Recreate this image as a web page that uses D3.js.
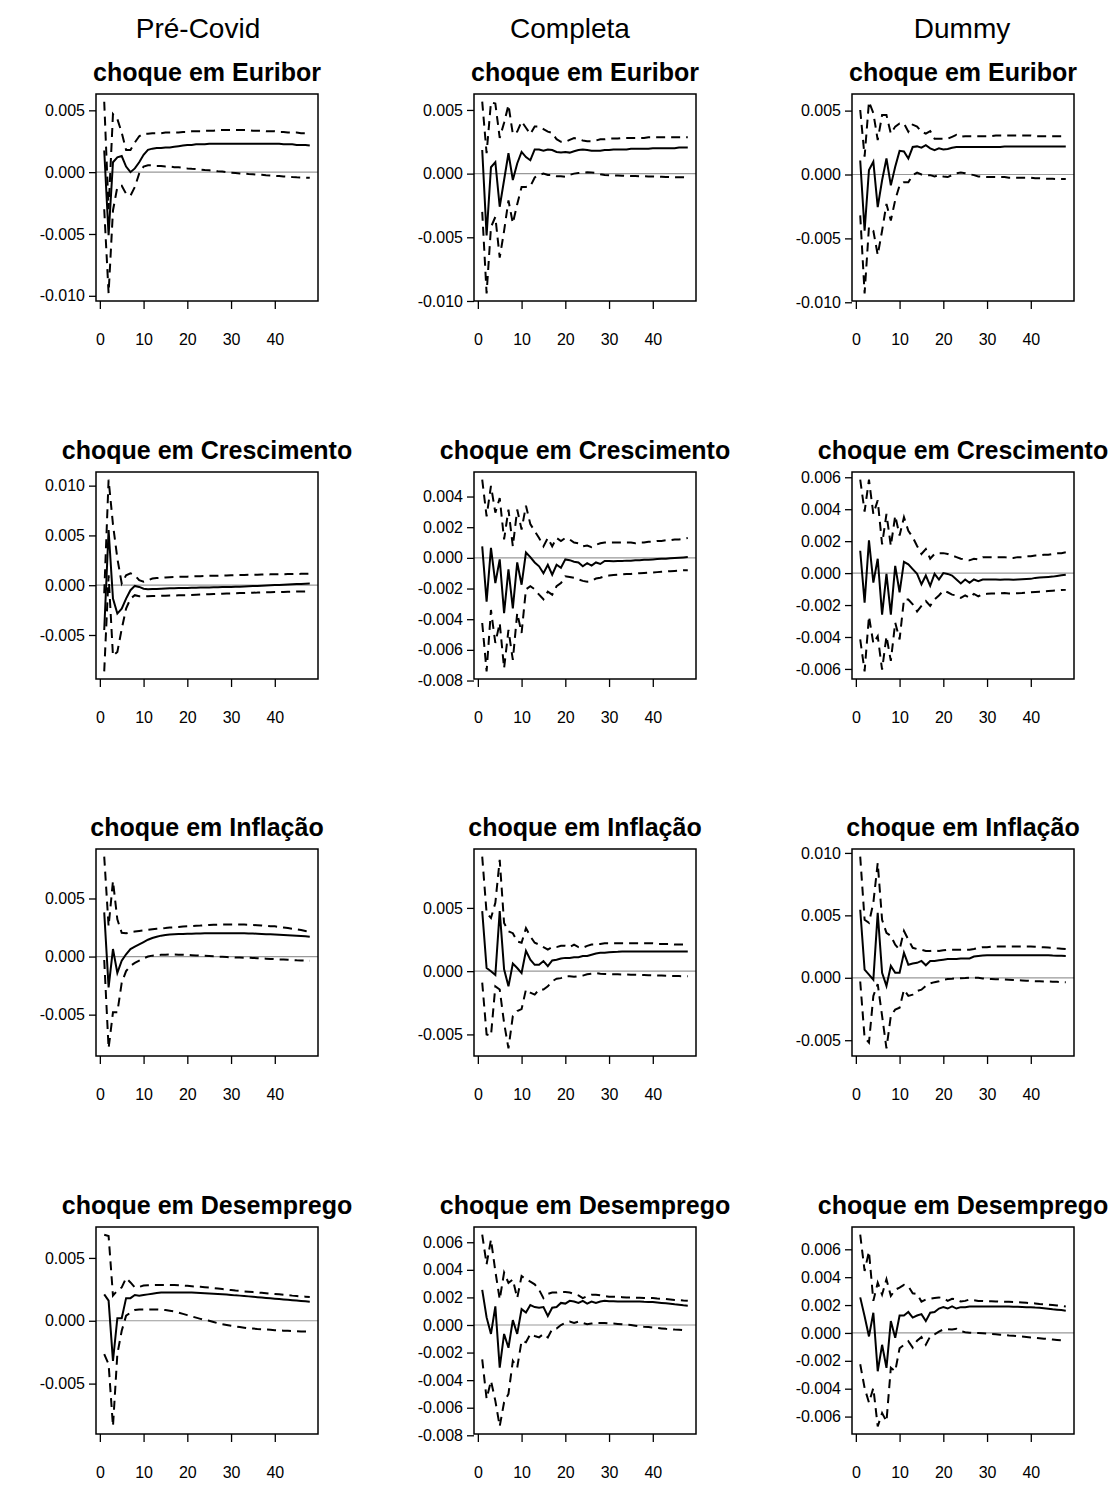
<!DOCTYPE html>
<html>
<head>
<meta charset="utf-8">
<script src="https://cdn.jsdelivr.net/npm/d3@7"></script>
<style>
body { margin: 0; background: #fff; }
text { font-family: "Liberation Sans", Arial, Helvetica, sans-serif; fill: #000; }
</style>
</head>
<body>
<svg id="chart" width="1117" height="1485"></svg>
<script>
// valores em milésimos (x 0.001)
var samples = ["Pré-Covid", "Completa", "Dummy"];
var shocks = ["Euribor", "Crescimento", "Inflação", "Desemprego"];
var xTicks = [0, 10, 20, 30, 40];

// --- choque em Euribor
var irf_pre_eur = [1.75,-5.1,0.8,1.2,1.3,0.45,0.0,0.3,0.8,1.4,1.8,1.9,
  1.95,1.95,2.0,2.0,2.05,2.1,2.15,2.2,2.2,2.25,2.25,2.25,
  2.3,2.3,2.3,2.3,2.3,2.3,2.3,2.3,2.3,2.3,2.3,2.3,
  2.3,2.3,2.3,2.3,2.3,2.25,2.25,2.25,2.2,2.2,2.2,2.15];
var up_pre_eur = [5.7,-3.0,4.7,4.3,3.2,1.8,1.8,2.4,2.9,3.1,3.1,3.15,
  3.15,3.15,3.2,3.2,3.2,3.2,3.25,3.25,3.3,3.3,3.3,3.35,
  3.35,3.35,3.4,3.4,3.4,3.4,3.4,3.4,3.4,3.4,3.35,3.35,
  3.35,3.3,3.3,3.3,3.25,3.25,3.2,3.2,3.2,3.15,3.15,3.1];
var lo_pre_eur = [-3.0,-9.8,-3.1,-1.2,-1.1,-1.75,-1.9,-1.2,-0.1,0.45,0.55,0.55,
  0.5,0.5,0.45,0.45,0.4,0.4,0.35,0.3,0.27,0.25,0.2,0.17,
  0.15,0.1,0.07,0.05,0.0,-0.05,-0.07,-0.1,-0.12,-0.15,-0.17,-0.2,
  -0.22,-0.25,-0.27,-0.3,-0.32,-0.35,-0.37,-0.4,-0.42,-0.43,-0.45,-0.46];

var irf_com_eur = [1.85,-4.85,0.5,0.9,-2.6,-0.5,1.6,-0.5,0.8,1.7,1.3,1.05,
  1.9,1.9,1.8,1.9,1.85,1.7,1.65,1.7,1.65,1.75,1.85,1.9,
  1.85,1.8,1.8,1.8,1.85,1.85,1.9,1.9,1.9,1.9,1.95,1.95,
  1.95,1.95,1.95,2.0,2.0,2.0,2.0,2.0,2.0,2.05,2.05,2.05];
var up_com_eur = [5.65,1.6,5.6,5.5,2.8,4.0,5.4,3.1,3.3,4.1,3.6,3.1,
  3.7,3.7,3.5,3.3,3.2,2.7,2.5,2.5,2.65,2.8,2.7,2.6,
  2.55,2.55,2.6,2.7,2.7,2.75,2.75,2.75,2.8,2.8,2.8,2.8,
  2.8,2.8,2.85,2.85,2.85,2.85,2.85,2.85,2.85,2.85,2.85,2.85];
var lo_com_eur = [-3.0,-9.4,-4.2,-3.4,-6.6,-4.5,-2.1,-3.9,-2.4,-1.05,-1.05,-1.0,
  -0.3,-0.1,0.0,-0.1,-0.1,-0.2,-0.2,-0.25,-0.1,0.0,0.05,0.08,
  0.1,0.08,0.05,-0.05,-0.1,-0.12,-0.14,-0.15,-0.16,-0.17,-0.18,-0.19,
  -0.2,-0.21,-0.22,-0.23,-0.24,-0.25,-0.26,-0.27,-0.28,-0.28,-0.29,-0.3];

var irf_dum_eur = [1.1,-4.4,0.35,1.0,-2.55,-0.45,1.25,-0.85,0.6,1.85,1.8,1.25,
  2.15,2.2,2.1,2.3,2.05,1.9,2.05,1.95,2.0,2.1,2.15,2.15,
  2.15,2.15,2.15,2.15,2.15,2.15,2.15,2.15,2.15,2.2,2.2,2.2,
  2.2,2.2,2.2,2.2,2.2,2.2,2.2,2.2,2.2,2.2,2.2,2.2];
var up_dum_eur = [5.05,1.4,5.7,4.8,2.7,4.65,4.65,3.2,3.75,4.0,4.0,3.35,
  3.9,3.75,3.35,3.2,3.4,2.8,2.8,2.8,2.8,2.95,3.1,2.95,
  3.0,3.0,3.0,3.0,3.0,3.0,3.0,3.05,3.05,3.05,3.05,3.05,
  3.05,3.05,3.05,3.05,3.0,3.0,3.0,3.0,3.0,3.0,3.0,3.0];
var lo_dum_eur = [-3.2,-9.3,-4.1,-4.4,-6.3,-4.4,-2.3,-3.6,-2.0,-0.85,-0.6,-0.6,
  -0.05,0.15,0.0,-0.05,-0.05,-0.15,-0.05,-0.15,-0.2,-0.05,0.1,0.15,
  0.1,0.02,-0.05,-0.15,-0.18,-0.2,-0.2,-0.2,-0.2,-0.2,-0.25,-0.25,
  -0.25,-0.25,-0.25,-0.25,-0.3,-0.3,-0.32,-0.33,-0.34,-0.35,-0.35,-0.36];

// --- choque em Crescimento
var irf_pre_cre = [-4.5,5.55,-1.35,-2.85,-2.35,-1.35,-0.5,-0.07,-0.17,-0.35,-0.4,-0.38,
  -0.37,-0.35,-0.33,-0.31,-0.3,-0.29,-0.28,-0.27,-0.26,-0.25,-0.24,-0.23,
  -0.22,-0.21,-0.2,-0.19,-0.18,-0.17,-0.16,-0.15,-0.13,-0.11,-0.09,-0.07,
  -0.05,-0.03,-0.01,0.01,0.03,0.05,0.07,0.09,0.11,0.13,0.15,0.17];
var up_pre_cre = [-0.8,10.6,6.1,2.7,0.17,1.0,1.2,1.0,0.5,0.35,0.5,0.67,
  0.72,0.75,0.78,0.8,0.82,0.84,0.85,0.86,0.88,0.9,0.91,0.92,
  0.94,0.95,0.96,0.97,0.98,1.0,1.01,1.02,1.03,1.04,1.05,1.06,
  1.07,1.08,1.09,1.1,1.1,1.11,1.12,1.12,1.13,1.14,1.14,1.15];
var lo_pre_cre = [-8.65,1.0,-7.1,-6.7,-4.4,-2.35,-1.35,-1.0,-1.1,-1.1,-1.1,-1.08,
  -1.07,-1.06,-1.05,-1.04,-1.03,-1.02,-1.01,-1.0,-0.98,-0.96,-0.94,-0.92,
  -0.9,-0.88,-0.86,-0.85,-0.83,-0.82,-0.8,-0.79,-0.78,-0.76,-0.75,-0.74,
  -0.72,-0.71,-0.7,-0.69,-0.68,-0.67,-0.66,-0.65,-0.64,-0.63,-0.62,-0.61];

var irf_com_cre = [0.75,-2.85,0.65,-1.65,-0.1,-3.6,-0.75,-3.3,-0.3,-1.75,0.35,0.05,
  -0.3,-0.55,-1.0,-0.45,-1.1,-0.45,-0.65,-0.1,-0.15,-0.25,-0.3,-0.55,
  -0.35,-0.5,-0.3,-0.4,-0.2,-0.2,-0.22,-0.2,-0.2,-0.18,-0.18,-0.15,
  -0.15,-0.13,-0.12,-0.1,-0.08,-0.06,-0.05,-0.03,-0.01,0.01,0.03,0.05];
var up_com_cre = [5.1,2.7,4.7,2.95,3.9,1.2,3.15,0.75,3.15,1.85,3.4,2.2,
  1.75,1.3,0.75,1.3,0.75,1.3,1.1,1.3,1.2,1.0,0.95,0.75,
  0.8,0.7,0.85,0.95,1.0,1.0,1.0,1.0,1.0,1.0,1.0,0.95,
  1.0,1.0,1.05,1.05,1.1,1.1,1.15,1.15,1.2,1.2,1.25,1.3];
var lo_com_cre = [-4.25,-7.4,-3.4,-5.55,-4.25,-7.2,-4.7,-6.65,-3.6,-4.9,-2.05,-1.85,
  -2.05,-2.4,-2.7,-2.2,-2.4,-1.85,-1.65,-1.2,-1.25,-1.3,-1.4,-1.5,
  -1.55,-1.5,-1.35,-1.3,-1.2,-1.15,-1.12,-1.1,-1.08,-1.06,-1.05,-1.02,
  -1.0,-0.98,-0.96,-0.95,-0.93,-0.91,-0.89,-0.87,-0.85,-0.83,-0.81,-0.8];

var irf_dum_cre = [1.4,-1.85,2.05,-0.6,0.9,-2.6,-0.05,-2.6,0.45,-1.2,0.7,0.55,
  0.25,-0.05,-0.7,-0.15,-0.8,-0.05,-0.4,0.0,-0.05,-0.15,-0.4,-0.65,
  -0.4,-0.6,-0.4,-0.5,-0.4,-0.4,-0.4,-0.4,-0.42,-0.4,-0.4,-0.42,
  -0.4,-0.38,-0.37,-0.36,-0.3,-0.28,-0.26,-0.24,-0.22,-0.18,-0.14,-0.1];
var up_dum_cre = [5.85,3.85,5.85,3.7,4.55,1.8,3.7,1.7,3.6,2.35,3.5,2.65,
  2.25,1.7,1.2,1.5,0.9,1.2,1.25,1.25,1.2,1.1,1.0,0.9,
  0.85,0.8,0.9,0.85,1.0,1.0,1.0,1.0,1.0,1.0,0.95,0.95,
  1.0,1.0,1.05,1.05,1.1,1.1,1.15,1.15,1.2,1.25,1.25,1.3];
var lo_dum_cre = [-4.15,-6.15,-2.7,-4.4,-3.95,-6.05,-3.95,-5.5,-3.1,-4.15,-1.65,-1.65,
  -1.95,-2.4,-2.05,-1.75,-2.05,-1.65,-1.4,-1.1,-1.2,-1.35,-1.4,-1.55,
  -1.4,-1.55,-1.3,-1.45,-1.32,-1.3,-1.28,-1.28,-1.27,-1.25,-1.27,-1.27,
  -1.26,-1.25,-1.22,-1.2,-1.18,-1.16,-1.14,-1.12,-1.1,-1.08,-1.06,-1.05];

// --- choque em Inflação
var irf_pre_inf = [3.8,-2.65,0.65,-1.4,-0.35,0.2,0.65,0.85,1.05,1.25,1.45,1.6,
  1.7,1.8,1.85,1.9,1.92,1.94,1.95,1.96,1.97,1.98,1.99,2.0,
  2.0,2.0,2.0,2.0,2.0,2.0,2.0,2.0,2.0,1.99,1.98,1.97,
  1.95,1.93,1.92,1.9,1.88,1.86,1.84,1.82,1.8,1.77,1.74,1.7];
var up_pre_inf = [8.6,2.6,6.5,3.2,2.05,2.0,2.1,2.15,2.2,2.25,2.3,2.35,
  2.4,2.42,2.45,2.5,2.52,2.55,2.58,2.6,2.62,2.65,2.67,2.7,
  2.72,2.74,2.75,2.75,2.75,2.75,2.75,2.75,2.75,2.74,2.72,2.7,
  2.68,2.65,2.62,2.6,2.55,2.5,2.45,2.4,2.35,2.28,2.2,2.1];
var lo_pre_inf = [-0.3,-7.9,-4.8,-4.8,-2.25,-1.25,-0.8,-0.55,-0.35,-0.15,0.0,0.08,
  0.12,0.15,0.16,0.17,0.17,0.16,0.15,0.14,0.12,0.1,0.08,0.06,
  0.04,0.02,0.0,-0.02,-0.04,-0.06,-0.08,-0.09,-0.1,-0.11,-0.12,-0.14,
  -0.16,-0.18,-0.2,-0.22,-0.24,-0.26,-0.28,-0.3,-0.32,-0.33,-0.34,-0.35];

var irf_com_inf = [4.75,0.25,0.0,-0.3,4.75,0.15,-1.2,0.6,0.25,-0.15,1.6,0.9,
  0.5,0.5,0.8,0.4,0.85,0.9,1.0,1.05,1.05,1.1,1.1,1.2,
  1.2,1.3,1.4,1.45,1.45,1.5,1.52,1.53,1.55,1.55,1.55,1.55,
  1.55,1.55,1.55,1.55,1.55,1.55,1.55,1.55,1.55,1.55,1.55,1.55];
var up_com_inf = [9.05,4.6,4.2,5.4,8.8,3.8,3.15,3.0,2.35,2.25,3.4,2.75,
  2.25,2.1,1.9,1.7,1.9,1.9,2.0,2.0,1.9,2.1,1.9,1.85,
  2.0,2.1,2.1,2.15,2.2,2.2,2.2,2.2,2.2,2.2,2.2,2.2,
  2.2,2.2,2.2,2.2,2.15,2.15,2.15,2.15,2.1,2.1,2.1,2.1];
var lo_com_inf = [-0.9,-5.0,-5.1,-1.2,-1.45,-4.1,-6.1,-3.55,-3.15,-3.0,-1.45,-1.7,
  -1.85,-1.45,-1.45,-1.2,-0.8,-0.6,-0.55,-0.4,-0.4,-0.45,-0.4,-0.35,
  -0.25,-0.2,-0.15,-0.2,-0.22,-0.24,-0.25,-0.25,-0.26,-0.27,-0.28,-0.29,
  -0.3,-0.31,-0.32,-0.33,-0.34,-0.35,-0.36,-0.37,-0.38,-0.39,-0.4,-0.4];

var irf_dum_inf = [5.45,0.65,0.25,-0.15,5.2,0.4,-0.65,0.95,0.4,0.4,2.0,1.05,
  1.15,1.2,1.35,1.0,1.35,1.35,1.4,1.45,1.5,1.5,1.5,1.55,
  1.55,1.55,1.7,1.75,1.78,1.8,1.8,1.8,1.8,1.8,1.8,1.8,
  1.8,1.8,1.8,1.8,1.8,1.8,1.8,1.8,1.78,1.77,1.76,1.75];
var up_dum_inf = [9.7,4.65,4.4,6.0,9.2,4.65,3.6,3.35,2.65,2.25,3.75,3.05,
  2.4,2.3,2.25,2.15,2.15,2.2,2.15,2.2,2.25,2.25,2.25,2.25,
  2.25,2.25,2.3,2.4,2.45,2.45,2.5,2.5,2.5,2.5,2.5,2.5,
  2.5,2.5,2.5,2.5,2.48,2.46,2.44,2.42,2.4,2.36,2.33,2.3];
var lo_dum_inf = [-0.3,-4.8,-5.2,-1.45,-0.5,-3.05,-5.65,-3.05,-2.55,-2.4,-0.95,-1.45,
  -1.35,-1.05,-0.95,-0.65,-0.45,-0.35,-0.28,-0.15,-0.1,-0.08,-0.05,-0.03,
  -0.02,0.0,0.0,0.0,-0.05,-0.08,-0.1,-0.12,-0.13,-0.14,-0.15,-0.17,
  -0.19,-0.21,-0.23,-0.25,-0.27,-0.28,-0.29,-0.3,-0.31,-0.32,-0.34,-0.35];

// --- choque em Desemprego
var irf_pre_des = [2.1,1.6,-3.2,0.2,0.2,1.8,1.8,2.05,2.0,2.05,2.1,2.15,
  2.2,2.25,2.25,2.25,2.25,2.25,2.25,2.25,2.24,2.22,2.2,2.18,
  2.16,2.14,2.12,2.1,2.08,2.05,2.02,2.0,1.97,1.94,1.91,1.88,
  1.85,1.82,1.79,1.76,1.73,1.7,1.67,1.64,1.61,1.58,1.55,1.52];
var up_pre_des = [6.85,6.75,2.0,2.4,2.65,3.4,3.05,2.65,2.7,2.8,2.82,2.83,
  2.84,2.85,2.85,2.85,2.84,2.83,2.8,2.78,2.75,2.72,2.7,2.67,
  2.64,2.6,2.56,2.52,2.48,2.44,2.4,2.37,2.34,2.31,2.28,2.25,
  2.22,2.19,2.16,2.13,2.1,2.07,2.04,2.0,1.97,1.94,1.92,1.9];
var lo_pre_des = [-2.65,-3.45,-8.4,-2.65,-0.8,0.4,0.65,0.85,0.9,0.9,0.9,0.9,
  0.9,0.88,0.85,0.8,0.75,0.65,0.55,0.45,0.35,0.25,0.15,0.05,
  0.0,-0.1,-0.2,-0.27,-0.33,-0.4,-0.45,-0.5,-0.55,-0.6,-0.62,-0.65,
  -0.67,-0.7,-0.72,-0.75,-0.77,-0.79,-0.8,-0.82,-0.83,-0.85,-0.86,-0.87];

var irf_com_des = [2.55,0.55,-0.65,1.35,-3.1,-0.65,-1.65,0.35,-0.65,1.15,0.9,1.45,
  1.3,1.25,1.3,0.65,1.25,1.3,1.6,1.55,1.75,1.7,1.6,1.75,
  1.55,1.7,1.6,1.7,1.75,1.72,1.72,1.7,1.7,1.7,1.7,1.7,
  1.7,1.68,1.67,1.66,1.63,1.6,1.57,1.54,1.5,1.47,1.43,1.4];
var up_com_des = [6.55,4.4,6.2,3.9,1.85,3.8,3.05,3.3,1.95,3.55,3.3,3.15,
  2.95,2.55,1.95,2.25,2.35,2.35,2.4,2.4,2.35,2.25,2.15,1.95,
  2.1,2.2,2.2,2.15,2.1,2.05,2.05,2.03,2.02,2.0,2.0,1.98,
  1.97,1.96,1.95,1.95,1.92,1.9,1.88,1.85,1.82,1.8,1.77,1.75];
var lo_com_des = [-2.5,-5.35,-4.05,-5.5,-7.35,-5.6,-5.0,-2.6,-3.1,-1.15,-1.25,-0.65,
  -0.8,-0.9,-0.65,-0.9,-0.3,-0.25,0.0,0.15,0.25,0.15,0.25,0.15,
  0.05,0.1,0.15,0.15,0.15,0.12,0.1,0.08,0.05,0.02,0.0,-0.05,
  -0.1,-0.13,-0.15,-0.18,-0.22,-0.25,-0.28,-0.3,-0.33,-0.35,-0.38,-0.4];

var irf_dum_des = [2.55,1.2,-0.25,1.45,-2.75,-0.85,-2.5,0.85,-0.35,1.25,1.25,1.5,
  1.1,1.25,1.35,0.85,1.45,1.5,1.75,1.85,1.75,1.9,1.75,1.85,
  1.85,1.9,1.9,1.9,1.9,1.9,1.9,1.9,1.9,1.9,1.9,1.88,
  1.87,1.86,1.85,1.85,1.82,1.8,1.77,1.74,1.7,1.67,1.64,1.6];
var up_dum_des = [7.05,4.45,5.85,2.3,3.6,2.75,3.85,2.65,3.1,3.25,3.45,3.35,
  2.85,2.8,2.25,2.4,2.45,2.5,2.55,2.5,2.3,2.45,2.4,2.25,
  2.3,2.4,2.35,2.3,2.3,2.28,2.27,2.26,2.25,2.24,2.23,2.22,
  2.2,2.18,2.16,2.14,2.12,2.08,2.05,2.02,2.0,1.97,1.94,1.9];
var lo_dum_des = [-2.25,-3.95,-5.0,-3.95,-6.7,-5.75,-6.35,-2.5,-2.75,-1.1,-0.85,-0.6,
  -1.05,-0.55,-0.3,-0.85,-0.25,-0.1,0.1,0.25,0.27,0.25,0.3,0.12,
  0.05,0.02,0.0,0.0,-0.02,-0.05,-0.08,-0.1,-0.13,-0.15,-0.18,-0.2,
  -0.23,-0.26,-0.29,-0.32,-0.35,-0.38,-0.41,-0.44,-0.47,-0.5,-0.53,-0.55];

// marcas do eixo y, por linha (choque) e coluna (amostra)
var yTicks = [
  [[-0.010,-0.005,0,0.005], [-0.010,-0.005,0,0.005], [-0.010,-0.005,0,0.005]],
  [[-0.005,0,0.005,0.010], [-0.008,-0.006,-0.004,-0.002,0,0.002,0.004], [-0.006,-0.004,-0.002,0,0.002,0.004,0.006]],
  [[-0.005,0,0.005], [-0.005,0,0.005], [-0.005,0,0.005,0.010]],
  [[-0.005,0,0.005], [-0.008,-0.006,-0.004,-0.002,0,0.002,0.004,0.006], [-0.006,-0.004,-0.002,0,0.002,0.004,0.006]]
];

var series = [
  [[irf_pre_eur, up_pre_eur, lo_pre_eur], [irf_com_eur, up_com_eur, lo_com_eur], [irf_dum_eur, up_dum_eur, lo_dum_eur]],
  [[irf_pre_cre, up_pre_cre, lo_pre_cre], [irf_com_cre, up_com_cre, lo_com_cre], [irf_dum_cre, up_dum_cre, lo_dum_cre]],
  [[irf_pre_inf, up_pre_inf, lo_pre_inf], [irf_com_inf, up_com_inf, lo_com_inf], [irf_dum_inf, up_dum_inf, lo_dum_inf]],
  [[irf_pre_des, up_pre_des, lo_pre_des], [irf_com_des, up_com_des, lo_com_des], [irf_dum_des, up_dum_des, lo_dum_des]]
];

var boxLeft = [96, 474, 852];
var boxTop = [94, 472, 849, 1227];
var boxW = 222, boxH = 207;
var headerX = [198, 570, 962];

var fmt = d3.formatLocale({decimal: ".", thousands: ",", grouping: [3], currency: ["", ""], minus: "-"}).format(".3f");

var svg = d3.select("#chart");

svg.selectAll("text.header")
  .data(samples)
  .join("text")
  .attr("class", "header")
  .attr("x", (d, i) => headerX[i])
  .attr("y", 38)
  .attr("text-anchor", "middle")
  .style("font-size", "28px")
  .text(d => d);

series.forEach(function(row, r){
  row.forEach(function(cell, c){
    var g = svg.append("g")
      .attr("transform", `translate(${boxLeft[c]},${boxTop[r]})`);

    var n = cell[0].length;
    var x = d3.scaleLinear()
      .domain([1 - (n - 1) * 0.04, n + (n - 1) * 0.04])
      .range([0, boxW]);

    var ext = d3.extent(cell[0].concat(cell[1], cell[2])).map(v => v / 1000);
    var pad = (ext[1] - ext[0]) * 0.04;
    var y = d3.scaleLinear()
      .domain([ext[0] - pad, ext[1] + pad])
      .range([boxH, 0]);

    // linha do zero
    g.append("line")
      .attr("x1", 0).attr("x2", boxW)
      .attr("y1", y(0)).attr("y2", y(0))
      .attr("stroke", "#999")
      .attr("stroke-width", 1.2);

    var line = d3.line()
      .x((d, i) => x(i + 1))
      .y(d => y(d / 1000));

    // bandas
    [cell[1], cell[2]].forEach(function(band){
      g.append("path")
        .datum(band)
        .attr("d", line)
        .attr("fill", "none")
        .attr("stroke", "#000")
        .attr("stroke-width", 2)
        .attr("stroke-dasharray", "9,6");
    });

    g.append("path")
      .datum(cell[0])
      .attr("d", line)
      .attr("fill", "none")
      .attr("stroke", "#000")
      .attr("stroke-width", 2);

    g.append("rect")
      .attr("width", boxW)
      .attr("height", boxH)
      .attr("fill", "none")
      .attr("stroke", "#000")
      .attr("stroke-width", 1.5);

    var ay = g.append("g")
      .call(d3.axisLeft(y).tickValues(yTicks[r][c]).tickSize(7).tickPadding(4).tickFormat(fmt));
    ay.select(".domain").remove();
    ay.selectAll("line").attr("stroke-width", 1.3);
    ay.selectAll("text").style("font-size", "16px").attr("fill", "#000");

    var ax = g.append("g")
      .attr("transform", `translate(0,${boxH})`)
      .call(d3.axisBottom(x).tickValues(xTicks).tickSize(8).tickPadding(25).tickFormat(d3.format("d")));
    ax.select(".domain").remove();
    ax.selectAll("line").attr("stroke-width", 1.3);
    ax.selectAll("text").style("font-size", "16px").attr("fill", "#000");

    g.append("text")
      .attr("x", boxW / 2)
      .attr("y", -13)
      .attr("text-anchor", "middle")
      .style("font-size", "25px")
      .style("font-weight", "bold")
      .text("choque em " + shocks[r]);
  });
});
</script>
</body>
</html>
